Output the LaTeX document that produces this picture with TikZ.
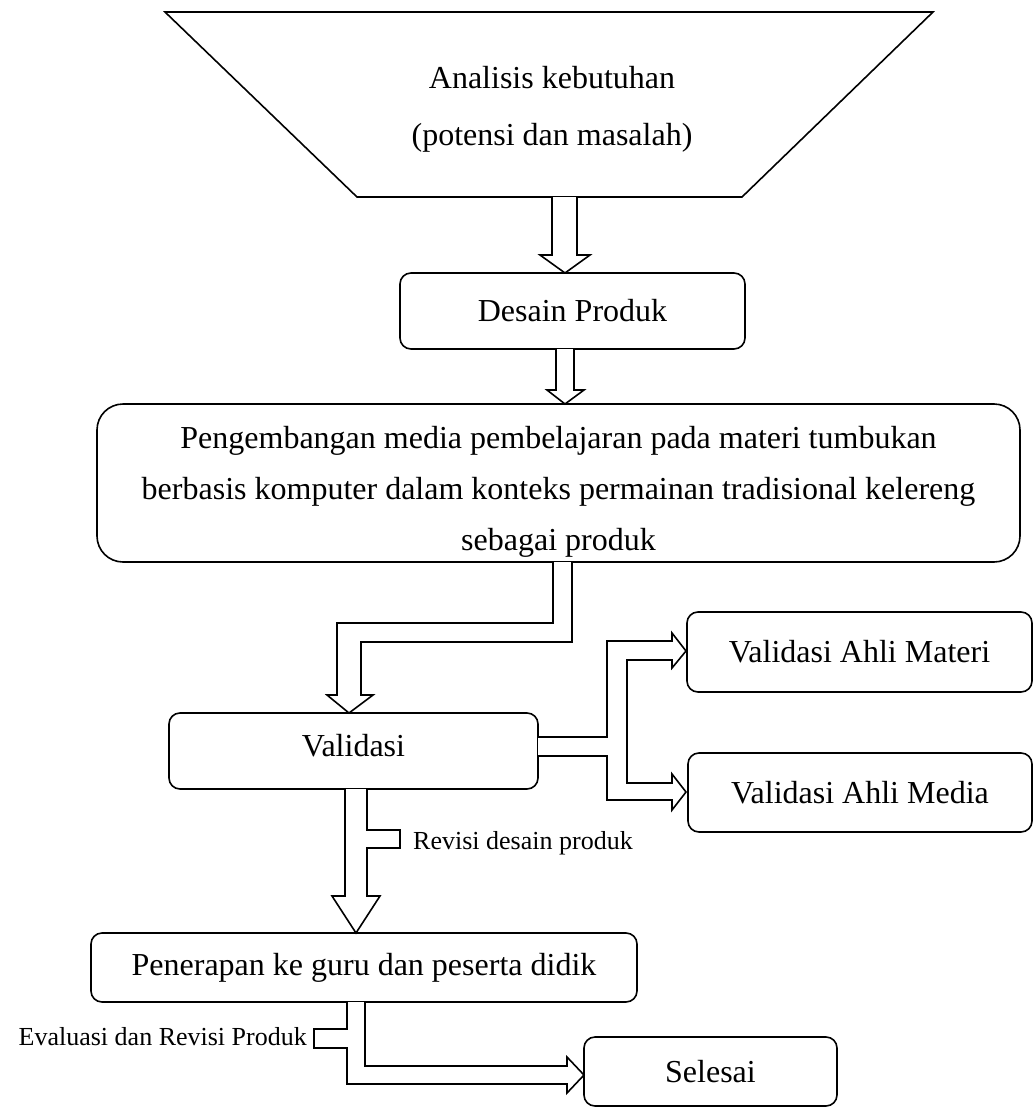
\documentclass[tikz,border=0pt]{standalone}
\usepackage{fontspec}
\setmainfont{Liberation Serif}
\usetikzlibrary{positioning}

\begin{document}
\begin{tikzpicture}[
  x=1pt,y=-1pt,
  box/.style={draw,line width=1.6pt,rounded corners=11pt,align=center,inner sep=0pt,
    font=\fontsize{32}{40}\selectfont},
  fat/.style={draw,fill=white,line width=1.6pt},
  lbl/.style={inner sep=0pt,font=\fontsize{26}{30}\selectfont}
]
  \useasboundingbox (0,0) rectangle (1033,1108);

  % funnel at the top
  \draw[line width=1.6pt] (165,12) -- (933,12) -- (742,197) -- (357,197) -- cycle;
  \node[align=center,font=\fontsize{32}{57}\selectfont] (analisis) at (552,109)
    {Analisis kebutuhan\\(potensi dan masalah)};

  \node[box,minimum width=345,minimum height=76] (desain) at (572.5,311) {Desain Produk};
  \node[box,rounded corners=26pt,minimum width=923,minimum height=158,
    font=\fontsize{32}{51}\selectfont] (kembang) at (558.5,483)
    {\rule{0pt}{40pt}Pengembangan media pembelajaran pada materi tumbukan\\
     berbasis komputer dalam konteks permainan tradisional kelereng\\
     sebagai produk};
  \node[box,minimum width=369,minimum height=76] (validasi) at (353.5,751)
    {\rule[-12pt]{0pt}{12pt}Validasi};
  \node[box,minimum width=345,minimum height=80] (materi) at (859.5,652) {Validasi Ahli Materi};
  \node[box,minimum width=344,minimum height=79] (media) at (860,792.5) {Validasi Ahli Media};
  \node[box,minimum width=546,minimum height=69] (penerapan) at (364,967.5)
    {Penerapan ke guru dan peserta didik};
  \node[box,minimum width=253,minimum height=69] (selesai) at (710.5,1071.5) {Selesai};

  % block arrows
  \draw[fat] (552,197) -- (552,255) -- (540,255) -- (565,273) -- (590,255)
    -- (577,255) -- (577,197);
  \draw[fat] (556,349) -- (556,390) -- (547,390) -- (565,404) -- (584,390)
    -- (574,390) -- (574,349);
  \draw[fat] (553,562) -- (553,623) -- (337,623) -- (337,695) -- (327,695)
    -- (349,713) -- (373,695) -- (361,695) -- (361,642) -- (572,642) -- (572,562);
  \draw[fat] (538,737) -- (607,737) -- (607,641) -- (672,641) -- (672,633)
    -- (686,651) -- (672,668) -- (672,660) -- (627,660) -- (627,783) -- (672,783)
    -- (672,774) -- (686,792) -- (672,810) -- (672,800) -- (607,800) -- (607,756)
    -- (538,756);
  \draw[fat] (367,789) -- (367,830) -- (400,830) -- (400,848) -- (367,848)
    -- (367,896) -- (380,896) -- (356,933) -- (332,896) -- (345,896) -- (345,789);
  \draw[fat] (347,1002) -- (347,1029) -- (314,1029) -- (314,1048) -- (347,1048)
    -- (347,1084) -- (567,1084) -- (567,1093) -- (584,1075) -- (567,1057)
    -- (567,1066) -- (365,1066) -- (365,1002);

  \node[lbl,anchor=west] (revisi) at (413,843) {Revisi desain produk};
  \node[lbl,anchor=east] (evaluasi) at (307,1037) {Evaluasi dan Revisi Produk};
\end{tikzpicture}
\end{document}
